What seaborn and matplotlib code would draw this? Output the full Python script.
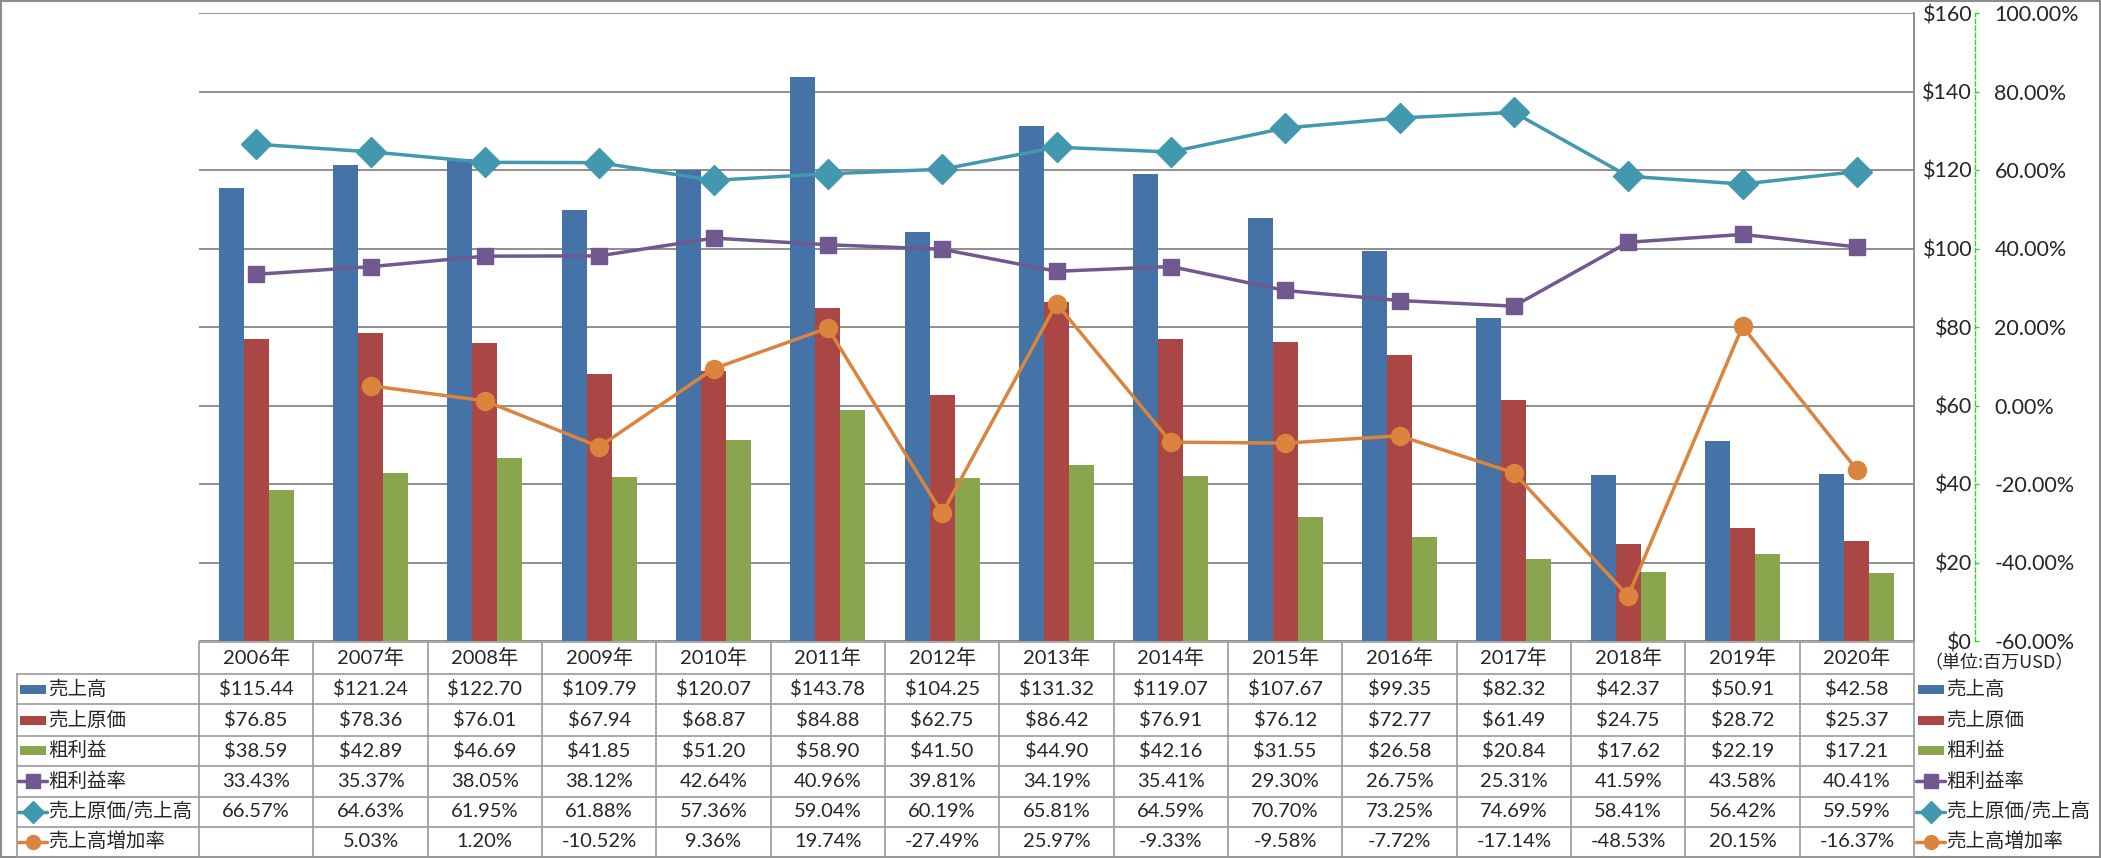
import numpy as np
import pandas as pd
import seaborn as sns
import matplotlib.pyplot as plt
from matplotlib.patches import Rectangle
from matplotlib.lines import Line2D

# === データ ===
years = ["2006年", "2007年", "2008年", "2009年", "2010年", "2011年", "2012年", "2013年",
         "2014年", "2015年", "2016年", "2017年", "2018年", "2019年", "2020年"]
sales = [115.44, 121.24, 122.70, 109.79, 120.07, 143.78, 104.25, 131.32,
         119.07, 107.67, 99.35, 82.32, 42.37, 50.91, 42.58]
cogs = [76.85, 78.36, 76.01, 67.94, 68.87, 84.88, 62.75, 86.42,
        76.91, 76.12, 72.77, 61.49, 24.75, 28.72, 25.37]
gross = [38.59, 42.89, 46.69, 41.85, 51.20, 58.90, 41.50, 44.90,
         42.16, 31.55, 26.58, 20.84, 17.62, 22.19, 17.21]
gross_margin = [33.43, 35.37, 38.05, 38.12, 42.64, 40.96, 39.81, 34.19,
                35.41, 29.30, 26.75, 25.31, 41.59, 43.58, 40.41]
cogs_ratio = [66.57, 64.63, 61.95, 61.88, 57.36, 59.04, 60.19, 65.81,
              64.59, 70.70, 73.25, 74.69, 58.41, 56.42, 59.59]
growth = [np.nan, 5.03, 1.20, -10.52, 9.36, 19.74, -27.49, 25.97,
          -9.33, -9.58, -7.72, -17.14, -48.53, 20.15, -16.37]

bar_names = ["売上高", "売上原価", "粗利益"]
bar_colors = ["#4572A7", "#AA4643", "#89A54E"]
line_names = ["粗利益率", "売上原価/売上高", "売上高増加率"]
line_colors = ["#71588F", "#4198AF", "#DB843D"]
line_markers = ["s", "D", "o"]
line_msize = [12, 15, 13]

sns.set_style("white")
plt.rcParams['font.family'] = ['Lato', 'Noto Sans CJK JP', 'DejaVu Sans']
jp = ["Noto Sans CJK JP", "DejaVu Sans"]

W, H = 2101, 858
fig = plt.figure(figsize=(W / 100, H / 100), dpi=100)

# プロット領域 (px)
PL, PR, PT, PB = 199, 1914, 13, 641
ax = fig.add_axes([PL / W, 1 - PB / H, (PR - PL) / W, (PB - PT) / H])

# === 棒グラフ ===
df = pd.DataFrame({
    "year": years * 3,
    "series": [bar_names[0]] * 15 + [bar_names[1]] * 15 + [bar_names[2]] * 15,
    "value": sales + cogs + gross,
})
sns.barplot(data=df, x="year", y="value", hue="series", hue_order=bar_names,
            palette=bar_colors, saturation=1, width=0.656, gap=0, linewidth=0,
            legend=False, ax=ax)
ax.set_xlim(-0.5, len(years) - 0.5)
ax.set_ylim(0, 160)
ax.set_xlabel("")
ax.set_ylabel("")
ax.tick_params(axis="x", length=0, labelbottom=False)
ax.grid(axis="y", color="#868686", lw=1.3)
ax.set_axisbelow(True)

# === 折れ線 (第2軸) ===
ax2 = ax.twinx()
x = np.arange(len(years))
for vals, c, m, ms in zip([gross_margin, cogs_ratio, growth], line_colors, line_markers, line_msize):
    ax2.plot(x, vals, color=c, lw=2.5, marker=m, ms=ms, zorder=3)
ax2.set_ylim(-60, 100)
pt = list(range(-60, 101, 20))
ax2.set_yticks(pt, labels=[f"{v:.2f}%" for v in pt])
for t, v in zip(ax2.yaxis.get_major_ticks(), pt):
    t.label2.set_color("#FF0000" if v < 0 else "black")
ax2.tick_params(axis="y", color="#22DD22", length=3, width=1, pad=11, labelsize=15.5)
for s in ["left", "top", "bottom"]:
    ax2.spines[s].set_visible(False)
ax2.spines["right"].set_position(("axes", 1 + (1975 - PR) / (PR - PL)))
ax2.spines["right"].set_color("#22DD22")
ax2.spines["right"].set_linestyle((0, (3, 2)))
ax2.spines["right"].set_linewidth(1)

# 金額軸 (右側、緑線の左)
yt = list(range(0, 161, 20))
ax.set_yticks(yt, labels=[f"${v}" for v in yt])
ax.yaxis.tick_right()
ax.tick_params(axis="y", length=0, pad=41.8, labelsize=15.5, labelleft=False, labelright=True)
for t in ax.yaxis.get_major_ticks():
    t.label2.set_horizontalalignment("right")
for s in ["left", "top", "bottom"]:
    ax.spines[s].set_visible(False)
ax.spines["right"].set_visible(True)
ax.spines["right"].set_color("#868686")
ax.spines["right"].set_linewidth(1.3)

# === データテーブル ===
tax = fig.add_axes([0, 0, 1, 1])
tax.set_xlim(0, W)
tax.set_ylim(H, 0)
tax.axis("off")

cw = (PR - PL) / len(years)
col_x = [PL + i * cw for i in range(len(years) + 1)]
row_y = [641.7, 674, 704.3, 735.7, 765.7, 796.7, 826.7, 856.7]
grid_c = "#9a9a9a"

tax.plot([PL, PR], [row_y[0]] * 2, color=grid_c, lw=1.2)
for yy in row_y[1:]:
    tax.plot([17, PR], [yy, yy], color=grid_c, lw=1.2)
tax.plot([17, 17], [row_y[1], row_y[-1]], color=grid_c, lw=1.2)
for xx in col_x:
    tax.plot([xx, xx], [row_y[0], row_y[-1]], color=grid_c, lw=1.2)

fs = 14.5
for i, y in enumerate(years):
    tax.text(col_x[i] + cw / 2, (row_y[0] + row_y[1]) / 2, y, ha="center", va="center", fontsize=fs)

rows = [
    [f"${v:.2f}" for v in sales],
    [f"${v:.2f}" for v in cogs],
    [f"${v:.2f}" for v in gross],
    [f"{v:.2f}%" for v in gross_margin],
    [f"{v:.2f}%" for v in cogs_ratio],
    ["" if np.isnan(v) else f"{v:.2f}%" for v in growth],
]
for r, vals in enumerate(rows):
    cy = (row_y[r + 1] + row_y[r + 2]) / 2
    for i, s in enumerate(vals):
        tax.text(col_x[i] + cw / 2, cy, s, ha="center", va="center", fontsize=fs)

# 凡例キー (左列と右側)
names = bar_names + line_names
legend_ms = [10, 11, 10]
for r, name in enumerate(names):
    cy = (row_y[r + 1] + row_y[r + 2]) / 2
    for x0 in (20, 1918):
        if r < 3:
            tax.add_patch(Rectangle((x0, cy - 4.5), 25.5, 9, color=bar_colors[r], lw=0))
        else:
            k = r - 3
            tax.add_line(Line2D([x0 - 2, x0 + 27], [cy, cy], color=line_colors[k], lw=2.5))
            tax.plot([x0 + 12.5], [cy], marker=line_markers[k], ms=legend_ms[k],
                     color=line_colors[k], lw=0)
        tax.text(x0 + 28, cy, name, ha="left", va="center", fontsize=14, family=jp)

tax.text(1924, 663, "（単位:百万USD）", ha="left", va="center", fontsize=13, family=jp)

# 外枠
tax.add_patch(Rectangle((1, 1), W - 2, H - 2.5, fill=False, edgecolor="#8c8c8c", lw=1.5))

fig.savefig("out.png", dpi=100)
